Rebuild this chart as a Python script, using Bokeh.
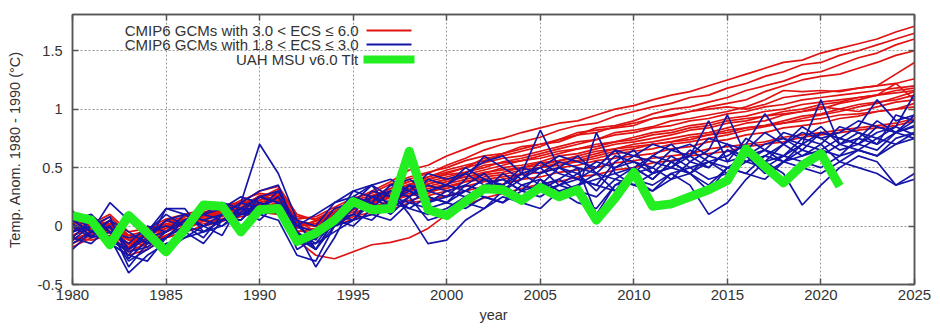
from bokeh.plotting import figure
from bokeh.models import Range1d, LinearAxis, FixedTicker, Label, BoxAnnotation
from bokeh.embed import file_html
from bokeh.resources import INLINE

# ---------------- data ----------------
years = list(range(1980, 2026))
x_ticks = [1980, 1985, 1990, 1995, 2000, 2005, 2010, 2015, 2020, 2025]
y_ticks = [-0.5, 0, 0.5, 1, 1.5]
y_tick_labels = ["-0.5", "0", "0.5", "1", "1.5"]

uah_years = list(range(1980, 2022))
uah_tlt = [0.09, 0.05, -0.16, 0.09, -0.06, -0.22, -0.03, 0.18, 0.17, -0.05,
           0.14, 0.15, -0.13, -0.06, 0.05, 0.21, 0.14, 0.15, 0.64, 0.14,
           0.09, 0.21, 0.32, 0.31, 0.22, 0.33, 0.25, 0.31, 0.05, 0.24,
           0.46, 0.17, 0.19, 0.25, 0.31, 0.39, 0.66, 0.51, 0.37, 0.52,
           0.62, 0.34]

red_1 = [-0.05, 0.02, -0.02, -0.15, -0.08, 0.00, 0.05, 0.10, 0.15, 0.18,
         0.25, 0.28, 0.02, 0.00, 0.12, 0.22, 0.30, 0.38, 0.48, 0.52,
         0.60, 0.66, 0.72, 0.75, 0.80, 0.84, 0.88, 0.90, 0.95, 1.00,
         1.03, 1.08, 1.12, 1.15, 1.20, 1.25, 1.30, 1.35, 1.40, 1.42,
         1.48, 1.52, 1.56, 1.60, 1.66, 1.71]
red_2 = [0.00, -0.05, 0.05, -0.10, -0.12, -0.02, 0.08, 0.12, 0.10, 0.20,
         0.22, 0.30, 0.05, -0.05, 0.08, 0.18, 0.25, 0.32, 0.40, 0.45,
         0.52, 0.58, 0.65, 0.70, 0.72, 0.76, 0.82, 0.86, 0.88, 0.94,
         0.98, 1.02, 1.05, 1.10, 1.12, 1.18, 1.22, 1.28, 1.32, 1.38,
         1.40, 1.46, 1.50, 1.55, 1.60, 1.65]
red_3 = [-0.10, 0.05, 0.00, -0.18, -0.05, 0.02, 0.00, 0.08, 0.14, 0.16,
         0.20, 0.25, 0.00, 0.02, 0.10, 0.15, 0.22, 0.28, 0.35, 0.42,
         0.48, 0.52, 0.56, 0.62, 0.66, 0.70, 0.72, 0.78, 0.84, 0.86,
         0.90, 0.96, 1.00, 1.02, 1.06, 1.10, 1.16, 1.20, 1.24, 1.30,
         1.32, 1.38, 1.44, 1.48, 1.55, 1.60]
red_4 = [0.05, 0.00, -0.05, -0.12, -0.15, -0.05, 0.03, 0.06, 0.12, 0.15,
         0.26, 0.22, -0.02, 0.05, 0.12, 0.20, 0.24, 0.30, 0.36, 0.40,
         0.45, 0.50, 0.58, 0.60, 0.64, 0.68, 0.74, 0.78, 0.80, 0.85,
         0.88, 0.92, 0.95, 0.98, 1.02, 1.05, 1.08, 1.15, 1.20, 1.25,
         1.28, 1.30, 1.35, 1.40, 1.46, 1.50]
red_5 = [-0.08, -0.02, 0.08, -0.08, -0.10, 0.05, 0.05, 0.10, 0.08, 0.20,
         0.18, 0.24, 0.04, 0.00, 0.06, 0.14, 0.20, 0.26, 0.30, 0.38,
         0.42, 0.46, 0.50, 0.55, 0.58, 0.62, 0.66, 0.70, 0.74, 0.80,
         0.82, 0.85, 0.90, 0.92, 0.95, 0.98, 1.02, 1.08, 1.16, 1.15,
         1.16, 1.15, 1.18, 1.20, 1.30, 1.40]
red_6 = [-0.12, -0.05, -0.02, -0.20, -0.10, -0.05, 0.02, 0.05, 0.10, 0.12,
         0.18, 0.22, -0.05, -0.02, 0.06, 0.12, 0.15, 0.20, 0.28, 0.30,
         0.32, 0.38, 0.40, 0.42, 0.45, 0.50, 0.52, 0.55, 0.58, 0.62,
         0.64, 0.66, 0.70, 0.72, 0.75, 0.78, 0.82, 0.85, 0.88, 0.92,
         0.95, 0.98, 1.02, 1.05, 1.10, 1.15]
red_7 = [0.02, 0.08, -0.05, -0.15, -0.05, 0.00, 0.05, 0.08, 0.12, 0.10,
         0.15, 0.20, 0.00, 0.04, 0.10, 0.14, 0.18, 0.25, 0.26, 0.32,
         0.36, 0.40, 0.44, 0.46, 0.50, 0.52, 0.56, 0.58, 0.62, 0.66,
         0.70, 0.72, 0.75, 0.78, 0.80, 0.84, 0.88, 0.90, 0.95, 0.98,
         1.00, 1.05, 1.08, 1.12, 1.22, 1.08]
red_8 = [-0.15, -0.08, 0.02, -0.12, -0.18, -0.08, -0.02, 0.04, 0.06, 0.10,
         0.14, 0.18, -0.08, -0.10, 0.02, 0.08, 0.12, 0.18, 0.22, 0.26,
         0.30, 0.34, 0.38, 0.40, 0.44, 0.46, 0.50, 0.52, 0.56, 0.58,
         0.60, 0.62, 0.66, 0.68, 0.72, 0.74, 0.78, 0.80, 0.84, 0.86,
         0.88, 0.92, 0.94, 0.98, 1.00, 1.05]
red_9 = [0.08, 0.02, 0.10, -0.05, -0.02, 0.06, 0.10, 0.14, 0.18, 0.20,
         0.30, 0.34, 0.10, 0.05, 0.12, 0.18, 0.22, 0.26, 0.32, 0.36,
         0.40, 0.42, 0.46, 0.48, 0.50, 0.54, 0.56, 0.60, 0.64, 0.66,
         0.68, 0.70, 0.72, 0.76, 0.78, 0.80, 0.84, 0.86, 0.88, 0.90,
         0.92, 0.95, 0.96, 0.98, 1.00, 1.02]
red_10 = [-0.10, -0.12, -0.08, -0.22, -0.15, -0.10, -0.05, 0.00, 0.05, 0.08,
          0.12, 0.10, -0.12, -0.25, -0.28, -0.22, -0.16, -0.14, -0.10, -0.02,
          0.10, 0.18, 0.24, 0.28, 0.32, 0.36, 0.38, 0.42, 0.44, 0.48,
          0.50, 0.54, 0.56, 0.60, 0.62, 0.64, 0.68, 0.70, 0.72, 0.76,
          0.78, 0.80, 0.82, 0.84, 0.86, 0.90]
red_11 = [-0.05, 0.05, 0.00, -0.10, -0.08, 0.00, 0.02, 0.08, 0.12, 0.14,
          0.22, 0.26, 0.04, 0.02, 0.08, 0.14, 0.20, 0.24, 0.30, 0.34,
          0.38, 0.42, 0.45, 0.50, 0.52, 0.55, 0.60, 0.62, 0.66, 0.70,
          0.72, 0.75, 0.78, 0.82, 0.84, 0.88, 0.90, 0.94, 0.96, 0.98,
          1.02, 1.00, 1.04, 1.06, 1.08, 1.12]
red_12 = [-0.18, -0.10, -0.05, -0.25, -0.20, -0.10, -0.05, 0.00, 0.04, 0.10,
          0.16, 0.14, -0.10, -0.08, 0.00, 0.06, 0.10, 0.14, 0.20, 0.22,
          0.26, 0.30, 0.34, 0.36, 0.40, 0.42, 0.46, 0.48, 0.50, 0.54,
          0.56, 0.58, 0.60, 0.62, 0.66, 0.68, 0.70, 0.72, 0.76, 0.78,
          0.80, 0.82, 0.84, 0.86, 0.88, 0.92]
red_13 = [0.00, 0.04, 0.02, -0.08, -0.04, 0.04, 0.08, 0.12, 0.16, 0.20,
          0.24, 0.32, 0.08, 0.06, 0.14, 0.22, 0.26, 0.32, 0.38, 0.42,
          0.46, 0.50, 0.54, 0.58, 0.60, 0.64, 0.68, 0.72, 0.74, 0.78,
          0.80, 0.84, 0.86, 0.90, 0.92, 0.96, 0.98, 1.02, 1.04, 1.08,
          1.10, 1.12, 1.14, 1.16, 1.18, 1.20]
red_14 = [-0.08, -0.02, -0.06, -0.18, -0.12, -0.04, 0.02, 0.06, 0.10, 0.14,
          0.20, 0.24, 0.00, -0.04, 0.06, 0.14, 0.20, 0.26, 0.32, 0.36,
          0.40, 0.44, 0.48, 0.52, 0.56, 0.58, 0.62, 0.66, 0.70, 0.72,
          0.76, 0.80, 0.82, 0.86, 0.88, 0.92, 0.94, 0.98, 1.00, 1.04,
          1.06, 1.08, 1.10, 1.12, 1.14, 1.16]
red_15 = [-0.02, 0.00, 0.04, -0.12, -0.06, 0.02, 0.06, 0.10, 0.14, 0.22,
          0.28, 0.26, 0.06, 0.08, 0.16, 0.24, 0.28, 0.36, 0.42, 0.46,
          0.50, 0.56, 0.60, 0.62, 0.68, 0.70, 0.74, 0.80, 0.82, 0.84,
          0.86, 0.92, 0.94, 0.98, 1.00, 1.02, 1.00, 1.04, 1.10, 1.12,
          1.14, 1.16, 1.18, 1.20, 1.22, 1.26]
red_16 = [-0.12, -0.06, -0.10, -0.22, -0.14, -0.08, 0.00, 0.02, 0.06, 0.12,
          0.16, 0.20, -0.04, -0.06, 0.04, 0.10, 0.16, 0.22, 0.26, 0.28,
          0.34, 0.38, 0.42, 0.44, 0.48, 0.50, 0.54, 0.56, 0.60, 0.64,
          0.66, 0.70, 0.72, 0.74, 0.78, 0.82, 0.84, 0.86, 0.90, 0.94,
          0.96, 1.00, 0.98, 1.02, 1.06, 1.08]
red_17 = [0.04, -0.04, 0.00, -0.16, -0.08, -0.02, 0.04, 0.08, 0.14, 0.16,
          0.26, 0.28, 0.02, 0.00, 0.10, 0.16, 0.24, 0.28, 0.34, 0.40,
          0.44, 0.46, 0.52, 0.54, 0.56, 0.60, 0.64, 0.66, 0.68, 0.72,
          0.74, 0.78, 0.80, 0.84, 0.86, 0.90, 0.92, 0.94, 0.98, 1.00,
          1.04, 1.06, 1.10, 1.12, 1.16, 1.18]

blue_1 = [0.10, 0.05, -0.10, -0.20, -0.05, 0.10, 0.00, -0.10, 0.10, 0.20,
          0.70, 0.45, 0.05, -0.20, 0.05, 0.15, 0.20, 0.35, 0.30, 0.25,
          0.20, 0.35, 0.45, 0.30, 0.40, 0.50, 0.35, 0.45, 0.30, 0.50,
          0.55, 0.45, 0.60, 0.50, 0.55, 0.45, 0.65, 0.55, 0.60, 0.70,
          0.65, 0.60, 0.75, 0.70, 0.80, 0.75]
blue_2 = [-0.20, -0.05, 0.00, -0.35, -0.15, 0.15, 0.15, -0.05, 0.05, 0.15,
          0.10, 0.05, -0.25, -0.30, 0.00, 0.05, 0.25, 0.30, 0.10, -0.15,
          -0.12, 0.05, 0.15, 0.30, 0.20, 0.40, 0.25, 0.35, 0.45, 0.30,
          0.50, 0.40, 0.55, 0.45, 0.30, 0.50, 0.60, 0.45, 0.55, 0.60,
          0.70, 0.55, 0.65, 0.60, 0.75, 0.80]
blue_3 = [0.13, -0.05, 0.20, 0.05, -0.10, -0.05, 0.05, 0.15, 0.20, 0.10,
          0.15, 0.30, 0.00, 0.10, 0.20, 0.30, 0.25, 0.15, 0.35, 0.30,
          0.25, 0.40, 0.60, 0.50, 0.40, 0.55, 0.45, 0.40, 0.50, 0.65,
          0.45, 0.60, 0.70, 0.55, 0.65, 0.95, 0.60, 0.70, 0.75, 0.65,
          0.80, 0.75, 0.70, 0.85, 0.80, 0.90]
blue_4 = [-0.05, 0.10, -0.15, -0.25, -0.05, 0.00, -0.05, -0.15, 0.05, 0.05,
          0.20, 0.15, -0.20, -0.10, 0.10, 0.25, 0.20, 0.10, 0.25, 0.05,
          0.10, 0.20, 0.15, 0.25, 0.20, 0.15, 0.30, 0.20, 0.15, 0.35,
          0.40, 0.30, 0.45, 0.35, 0.10, 0.20, 0.40, 0.55, 0.45, 0.18,
          0.35, 0.50, 0.60, 0.55, 0.35, 0.45]
blue_5 = [0.00, -0.10, 0.05, -0.20, -0.10, 0.05, 0.00, 0.10, 0.15, 0.25,
          0.20, 0.10, -0.05, -0.15, 0.05, 0.10, 0.30, 0.25, 0.20, 0.30,
          0.35, 0.30, 0.40, 0.35, 0.45, 0.82, 0.50, 0.45, 0.55, 0.50,
          0.60, 0.55, 0.50, 0.65, 0.55, 0.60, 0.70, 0.96, 0.75, 0.70,
          0.80, 0.75, 0.85, 1.08, 0.90, 0.95]
blue_6 = [-0.10, 0.05, -0.05, -0.30, -0.20, -0.10, 0.05, 0.00, 0.10, 0.05,
          0.25, 0.20, -0.10, -0.05, 0.05, 0.00, 0.15, 0.20, 0.35, 0.20,
          0.30, 0.25, 0.35, 0.40, 0.30, 0.35, 0.40, 0.30, 0.80, 0.45,
          0.50, 0.40, 0.55, 0.60, 0.90, 0.55, 0.60, 0.65, 0.55, 0.70,
          1.08, 0.70, 0.80, 0.75, 0.85, 1.13]
blue_7 = [0.05, 0.10, -0.05, -0.15, 0.00, -0.05, 0.10, 0.05, 0.00, 0.15,
          0.15, 0.25, 0.00, -0.05, 0.15, 0.20, 0.15, 0.30, 0.25, 0.35,
          0.30, 0.35, 0.30, 0.45, 0.35, 0.30, 0.40, 0.50, 0.10, 0.35,
          0.45, 0.50, 0.40, 0.55, 0.50, 0.65, 0.55, 0.60, 0.70, 0.60,
          0.65, 0.75, 0.70, 0.65, 0.80, 0.85]
blue_8 = [-0.15, -0.05, -0.10, -0.40, -0.25, -0.15, -0.10, 0.00, 0.05, 0.10,
          0.10, 0.15, -0.15, -0.10, 0.00, 0.10, 0.05, 0.20, 0.15, 0.25,
          0.20, 0.30, 0.25, 0.20, 0.35, 0.40, 0.30, 0.35, 0.40, 0.45,
          0.35, 0.45, 0.50, 0.45, 0.55, 0.50, 0.45, 0.60, 0.55, 0.65,
          0.60, 0.70, 0.65, 0.75, 0.70, 0.80]
blue_9 = [0.08, -0.10, -0.05, -0.10, -0.05, 0.15, 0.10, 0.00, -0.08, 0.20,
          0.30, 0.35, -0.05, -0.35, -0.10, 0.20, 0.35, 0.15, 0.25, 0.40,
          0.35, 0.50, 0.40, 0.35, 0.50, 0.45, 0.55, 0.50, 0.45, 0.60,
          0.55, 0.50, 0.65, 0.70, 0.60, 0.55, 0.75, 0.65, 0.80, 0.75,
          0.70, 0.85, 0.80, 0.70, 0.95, 0.90]
blue_10 = [-0.05, 0.00, -0.15, -0.25, -0.30, -0.10, 0.00, -0.05, 0.05, 0.15,
           0.05, 0.20, -0.10, -0.20, 0.05, 0.30, 0.35, 0.25, 0.15, 0.10,
           0.15, 0.25, 0.30, 0.35, 0.25, 0.30, 0.35, 0.40, 0.35, 0.30,
           0.40, 0.35, 0.45, 0.50, 0.40, 0.45, 0.55, 0.50, 0.60, 0.55,
           0.50, 0.60, 0.65, 0.60, 0.70, 0.75]
blue_11 = [0.05, -0.05, 0.05, -0.05, -0.15, -0.10, 0.05, 0.10, 0.20, 0.15,
           0.25, 0.20, 0.05, 0.00, 0.20, 0.25, 0.35, 0.40, 0.30, 0.45,
           0.40, 0.45, 0.55, 0.60, 0.45, 0.50, 0.60, 0.55, 0.50, 0.65,
           0.60, 0.70, 0.65, 0.60, 0.75, 0.70, 0.65, 0.80, 0.70, 0.85,
           0.75, 0.80, 0.90, 0.85, 0.80, 0.95]
blue_12 = [-0.10, -0.15, 0.00, -0.20, -0.05, -0.20, -0.10, -0.05, 0.00, 0.10,
           0.20, 0.10, -0.15, -0.15, -0.05, 0.05, 0.10, 0.05, 0.20, 0.15,
           0.20, 0.15, 0.25, 0.20, 0.30, 0.25, 0.35, 0.30, 0.25, 0.40,
           0.35, 0.30, 0.40, 0.45, 0.35, 0.50, 0.45, 0.40, 0.55, 0.50,
           0.45, 0.55, 0.50, 0.45, 0.35, 0.40]
blue_13 = [-0.12, 0.00, 0.08, -0.28, -0.12, 0.05, 0.10, 0.05, 0.10, 0.20,
           0.15, 0.25, -0.05, -0.20, 0.00, 0.15, 0.25, 0.20, 0.30, 0.20,
           0.25, 0.30, 0.40, 0.30, 0.45, 0.35, 0.50, 0.40, 0.35, 0.55,
           0.65, 0.45, 0.50, 0.60, 0.50, 0.65, 0.60, 0.55, 0.70, 0.80,
           0.75, 0.65, 0.70, 0.80, 0.85, 0.78]
blue_14 = [0.02, -0.08, -0.12, -0.22, -0.18, -0.05, 0.05, 0.10, 0.05, 0.12,
           0.25, 0.30, 0.00, -0.12, 0.10, 0.05, 0.20, 0.35, 0.40, 0.30,
           0.35, 0.45, 0.35, 0.40, 0.30, 0.45, 0.50, 0.60, 0.45, 0.40,
           0.50, 0.60, 0.55, 0.45, 0.60, 0.70, 0.55, 0.65, 0.60, 0.75,
           0.85, 0.70, 0.75, 0.90, 0.80, 0.86]

red_runs = [red_1, red_2, red_3, red_4, red_5, red_6, red_7, red_8, red_9,
            red_10, red_11, red_12, red_13, red_14, red_15, red_16, red_17]
blue_runs = [blue_1, blue_2, blue_3, blue_4, blue_5, blue_6, blue_7, blue_8,
             blue_9, blue_10, blue_11, blue_12, blue_13, blue_14]

legend_labels = ["CMIP6 GCMs with 3.0 < ECS \u2264 6.0",
                 "CMIP6 GCMs with 1.8 < ECS \u2264 3.0",
                 "UAH MSU v6.0 Tlt"]

# ---------------- styles ----------------
RED = "#e01212"
BLUE = "#1515a8"
GREEN = "#22ee22"
TXT = "#333333"
FRAME = "#555555"
FONT = "Liberation Sans"

p = figure(width=940, height=329, output_backend="svg", toolbar_location=None,
           x_range=Range1d(1980, 2025), y_range=Range1d(-0.5, 1.81),
           min_border_left=72, min_border_right=26, min_border_top=14,
           min_border_bottom=45, background_fill_color="white",
           border_fill_color="white")

for run in red_runs:
    p.line(years, run, line_color=RED, line_width=1.7)
for run in blue_runs:
    p.line(years, run, line_color=BLUE, line_width=1.7)
p.line(uah_years, uah_tlt, line_color=GREEN, line_width=9, line_join="round")

p.outline_line_color = FRAME
p.outline_line_width = 1.5

p.xaxis.ticker = FixedTicker(ticks=x_ticks)
p.yaxis.ticker = FixedTicker(ticks=y_ticks)
p.yaxis.major_label_overrides = {t: l for t, l in zip(y_ticks, y_tick_labels)}

for ax in (p.xaxis[0], p.yaxis[0]):
    ax.major_tick_in = 6
    ax.major_tick_out = 0
    ax.minor_tick_line_color = None
    ax.axis_line_color = FRAME
    ax.axis_line_width = 1.5
    ax.major_tick_line_color = FRAME
    ax.major_tick_line_width = 1.5
    ax.major_label_text_font = FONT
    ax.major_label_text_color = TXT
    ax.axis_label_text_font = FONT
    ax.axis_label_text_color = TXT
    ax.axis_label_text_font_style = "normal"
    ax.axis_label_text_font_size = "14.5px"

p.xaxis.major_label_text_font_size = "15px"
p.yaxis.major_label_text_font_size = "14.5px"
p.xaxis.major_label_standoff = 5
p.yaxis.major_label_standoff = 10
p.xaxis.axis_label = "year"
p.xaxis.axis_label_standoff = 4
p.yaxis.axis_label = "Temp. Anom. 1980 - 1990 (\u00b0C)"
p.yaxis.axis_label_standoff = 12

top_ax = LinearAxis(ticker=FixedTicker(ticks=x_ticks),
                    major_label_overrides={t: "" for t in x_ticks})
right_ax = LinearAxis(ticker=FixedTicker(ticks=y_ticks),
                      major_label_overrides={t: "" for t in y_ticks})
for ax in (top_ax, right_ax):
    ax.major_tick_in = 6
    ax.major_tick_out = 0
    ax.minor_tick_line_color = None
    ax.axis_line_color = FRAME
    ax.axis_line_width = 1.5
    ax.major_tick_line_color = FRAME
    ax.major_tick_line_width = 1.5
    ax.major_label_standoff = 0
p.add_layout(top_ax, "above")
p.add_layout(right_ax, "right")

for g in (p.xgrid[0], p.ygrid[0]):
    g.grid_line_color = "#9a9a9a"
    g.grid_line_dash = "2 2"
    g.grid_line_width = 1

# ---------------- legend (text right-aligned, sample to the right) ----------------
rows_y = [254, 240, 225]
colors = [RED, BLUE, GREEN]
thick = [2, 2, 8]
for lab, yy, col, th in zip(legend_labels, rows_y, colors, thick):
    p.add_layout(Label(x=286, y=yy, x_units="screen", y_units="screen", text=lab,
                       text_align="right", text_baseline="middle",
                       text_font=FONT, text_font_size="15px", text_color=TXT))
    ext = 3 if th > 2 else 0
    p.add_layout(BoxAnnotation(left=294 - ext, right=339 + ext,
                               bottom=yy - th / 2, top=yy + th / 2,
                               left_units="screen", right_units="screen",
                               bottom_units="screen", top_units="screen",
                               fill_color=col, fill_alpha=1, line_color=None))

open("out.html", "w").write(file_html(p, INLINE))
